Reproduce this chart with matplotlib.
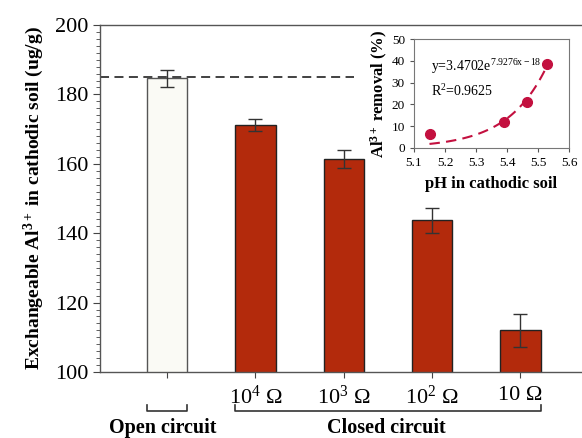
import numpy as np
import matplotlib
matplotlib.use("Agg")
import matplotlib.pyplot as plt
from matplotlib.ticker import MultipleLocator
import matplotlib.transforms as mtransforms

plt.rcParams['font.family'] = ['Liberation Serif', 'DejaVu Serif']
plt.rcParams['mathtext.fontset'] = 'custom'
plt.rcParams['mathtext.rm'] = 'Liberation Serif'
plt.rcParams['mathtext.it'] = 'Liberation Serif:italic'
plt.rcParams['mathtext.bf'] = 'Liberation Serif:bold'

# ---- data ----
tick_labels = ['', r'10$^{4}$ Ω', r'10$^{3}$ Ω', r'10$^{2}$ Ω', '10 Ω']
values = [184.6, 171.2, 161.4, 143.7, 112.0]
errors = [2.5, 1.8, 2.5, 3.5, 4.7]
reference_level = 185.0
group_names = ['Open circuit', 'Closed circuit']

ph = [5.15, 5.39, 5.465, 5.53]
removal = [6.2, 11.7, 21.2, 38.7]
fit_a = 3.4702e-18
fit_b = 7.9276
eq_text = r'y=3.4702e$^{\mathrm{7.9276x-18}}$'
r2_text = r'R$^{2}$=0.9625'

bar_red = '#b32a0c'
open_fill = '#fafaf5'
pt_color = '#c3103f'

fig = plt.figure(figsize=(5.82, 4.38), dpi=100)
ax = fig.add_axes([100/582, 66/438, 484/582, 347/438])

x = np.arange(len(values))
colors = [open_fill] + [bar_red] * (len(values) - 1)
edges = ['#555555'] + ['#222222'] * (len(values) - 1)
ax.bar(x, values, width=0.455, bottom=0, color=colors, edgecolor=edges,
       linewidth=1.0, zorder=2)
ax.errorbar(x, values, yerr=errors, fmt='none', ecolor='#333333',
            elinewidth=1.0, capsize=5, capthick=1.0, zorder=3)
ax.axhline(reference_level, xmin=0, xmax=0.525, color='#333333',
           linestyle=(0, (5, 3)), linewidth=1.3, zorder=1)

ax.set_ylim(100, 200)
ax.set_xlim(-0.76, 4.72)
ax.set_xticks(x)
ax.set_xticklabels(tick_labels, fontsize=16)
ax.yaxis.set_major_locator(MultipleLocator(20))
ax.yaxis.set_minor_locator(MultipleLocator(2))
ax.tick_params(axis='y', which='major', direction='out', length=5, labelsize=16,
               color='#444444')
ax.tick_params(axis='y', which='minor', direction='out', length=3, color='#444444')
ax.tick_params(axis='x', which='major', direction='out', length=4, pad=6,
               color='#444444')
for s in ['top', 'left', 'bottom']:
    ax.spines[s].set_color('#555555')
    ax.spines[s].set_linewidth(1.0)
ax.spines['right'].set_visible(False)

ax.set_ylabel(r'Exchangeable Al$^{\mathbf{3+}}$ in cathodic soil (ug/g)',
              fontsize=14, fontweight='bold', labelpad=6)

# brackets below x axis
trans = mtransforms.blended_transform_factory(ax.transData, ax.transAxes)
yb, yt = -0.112, -0.095
hw = 0.455 / 2
for (x0, x1) in [(x[0] - hw, x[0] + hw), (x[1] - hw, x[-1] + hw)]:
    ax.plot([x0, x0, x1, x1], [yt, yb, yb, yt], transform=trans,
            color='#333333', lw=1.2, clip_on=False)
ax.text(-0.05, -0.162, group_names[0], transform=trans, ha='center', va='center',
        fontsize=14.5, fontweight='bold')
ax.text(2.48, -0.162, group_names[1], transform=trans, ha='center', va='center',
        fontsize=14.5, fontweight='bold')

# ---- inset ----
axi = fig.add_axes([414/582, 290/438, 155/582, 109/438])
xf = np.linspace(ph[0], ph[-1], 100)
axi.plot(xf, fit_a * np.exp(fit_b * xf), color=pt_color, linestyle=(0, (5, 3)),
         linewidth=1.5, zorder=2)
axi.plot(ph, removal, 'o', color=pt_color, markersize=7, zorder=3)
axi.set_xlim(5.1, 5.6)
axi.set_ylim(0, 50)
axi.set_xticks([5.1, 5.2, 5.3, 5.4, 5.5, 5.6])
axi.set_yticks([0, 10, 20, 30, 40, 50])
axi.tick_params(direction='out', length=3, labelsize=9.5, color='#555555')
for s in axi.spines.values():
    s.set_color('#777777')
    s.set_linewidth(0.8)
axi.set_xlabel('pH in cathodic soil', fontsize=12, fontweight='bold', labelpad=5)
axi.set_ylabel(r'Al$^{\mathbf{3+}}$ removal (%)', fontsize=12, fontweight='bold',
               labelpad=1)
axi.text(0.11, 0.75, eq_text, transform=axi.transAxes, fontsize=10,
         ha='left', va='center')
axi.text(0.11, 0.52, r2_text, transform=axi.transAxes, fontsize=10,
         ha='left', va='center')

fig.savefig('out.png', dpi=100)
